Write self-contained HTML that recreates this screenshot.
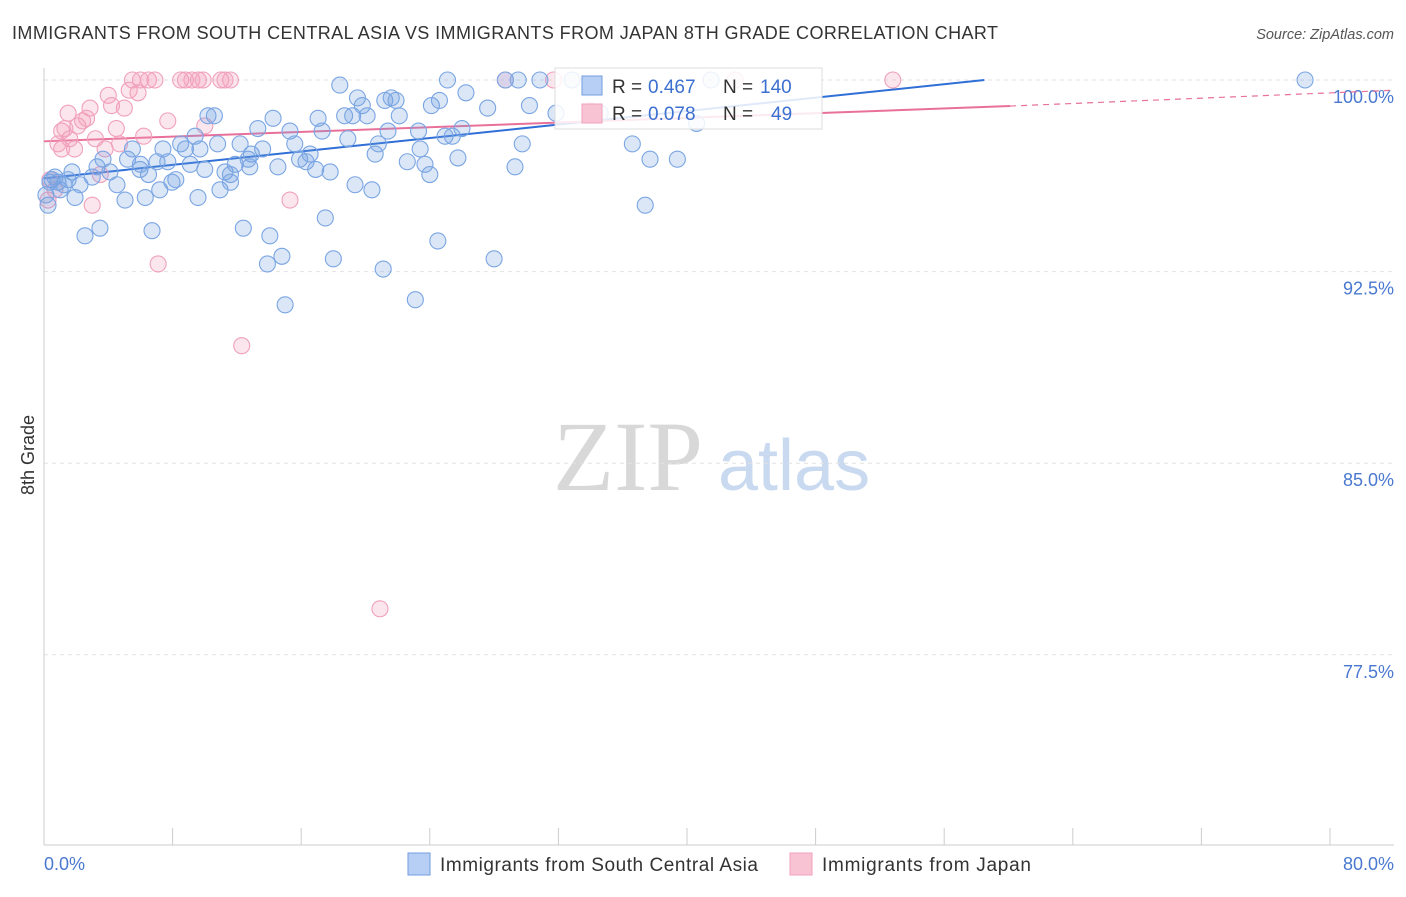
<!DOCTYPE html>
<html><head><meta charset="utf-8"><style>
body{margin:0;background:#fff;font-family:"Liberation Sans",sans-serif;}
</style></head><body>
<svg width="1406" height="892" xmlns="http://www.w3.org/2000/svg" font-family="Liberation Sans, sans-serif">
<text x="12" y="39" font-size="18" fill="#333" textLength="986">IMMIGRANTS FROM SOUTH CENTRAL ASIA VS IMMIGRANTS FROM JAPAN 8TH GRADE CORRELATION CHART</text>
<text x="1394" y="39" font-size="14.5" fill="#555" font-style="italic" text-anchor="end">Source: ZipAtlas.com</text>
<g>
<text x="553" y="490" font-size="100" style="font-family:'Liberation Serif',serif" fill="#d8d8d8">ZIP</text>
<text x="718" y="490" font-size="72" fill="#c8d9f0">atlas</text>
</g>
<g id="grid"></g>
<g id="axes"></g>
<g id="trend"></g>
<g id="pts"></g>
<text transform="translate(34,455) rotate(-90)" font-size="18" fill="#333" text-anchor="middle">8th Grade</text>
<text x="44" y="870" font-size="18" fill="#4a78d0">0.0%</text>
<text x="1394" y="870" font-size="18" fill="#4a78d0" text-anchor="end">80.0%</text>
<g>
<rect x="555" y="68" width="267" height="61" fill="#fff" fill-opacity="0.85" stroke="#ddd"/>
<rect x="582" y="76" width="20" height="19" fill="#b8cff5" stroke="#6f9ee0"/>
<text x="612" y="93" font-size="19" fill="#333">R = </text>
<text x="648" y="93" font-size="19" fill="#3b6fd0">0.467</text>
<text x="723" y="93" font-size="19" fill="#333">N = </text>
<text x="760" y="93" font-size="19" fill="#3b6fd0">140</text>
<rect x="582" y="104" width="20" height="19" fill="#f8c4d4" stroke="#f0a0bc"/>
<text x="612" y="120" font-size="19" fill="#333">R = </text>
<text x="648" y="120" font-size="19" fill="#3b6fd0">0.078</text>
<text x="723" y="120" font-size="19" fill="#333">N = </text>
<text x="771" y="120" font-size="19" fill="#3b6fd0">49</text>
</g>
<g>
<rect x="408" y="853" width="22" height="22" fill="#b8cff5" stroke="#6f9ee0"/>
<text x="440" y="871" font-size="19" fill="#333" textLength="318">Immigrants from South Central Asia</text>
<rect x="790" y="853" width="22" height="22" fill="#f8c4d4" stroke="#f0a0bc"/>
<text x="822" y="871" font-size="19" fill="#333" textLength="209">Immigrants from Japan</text>
</g>
</svg>
<script>
const yTicks=[100,92.5,85,77.5];
const yTickLabels=["100.0%","92.5%","85.0%","77.5%"];
const xTicks=[0,8,16,24,32,40,48,56,64,72,80];
const blueX=[0.25,0.5,0.87,1.24,1.74,1.93,2.24,2.55,3.0,3.3,3.48,3.67,4.1,4.54,5.04,5.2,5.5,5.97,6.3,6.5,6.72,7.03,7.2,7.4,7.7,7.96,8.2,8.5,8.8,9.1,9.4,9.58,9.7,10.0,10.2,10.6,10.8,10.95,11.26,11.6,11.9,12.2,12.4,12.7,12.9,13.3,13.6,13.9,14.05,14.25,14.55,14.8,15.0,15.3,15.6,15.9,16.3,16.55,16.9,17.05,17.3,17.5,17.8,18.0,18.4,18.7,18.9,19.2,19.35,19.5,19.8,20.1,20.4,20.6,20.8,21.1,21.2,21.4,21.6,21.9,22.1,22.6,23.1,23.3,23.4,23.7,24.0,24.1,24.5,24.6,24.95,25.1,25.4,25.75,26.0,26.25,27.6,28.0,28.7,29.3,29.5,29.75,30.2,30.85,31.85,32.85,34.6,36.6,37.4,37.7,39.4,40.6,41.5,78.45,0.12,0.37,0.68,1.0,1.5,6.0,11.6,12.8];
const blueY=[95.1,96.1,96.0,95.9,96.4,95.4,95.9,93.9,96.2,96.6,94.2,96.9,96.4,95.9,95.3,96.9,97.3,96.5,95.4,96.3,94.1,96.8,95.7,97.3,96.8,96.0,96.1,97.5,97.3,96.7,97.8,95.4,97.3,96.5,98.6,98.6,97.5,95.7,96.4,96.0,96.7,97.5,94.2,96.9,97.1,98.1,97.3,92.8,93.9,98.5,96.6,93.1,91.2,98.0,97.5,96.9,96.8,97.1,96.5,98.5,98.0,94.6,96.4,93.0,99.8,98.6,97.7,98.6,95.9,99.3,99.0,98.6,95.7,97.1,97.5,92.6,99.2,98.0,99.3,99.2,98.6,96.8,91.4,98.0,97.3,96.7,96.3,99.0,93.7,99.2,97.8,100,97.8,96.95,98.1,99.5,98.9,93.0,100,96.6,100,97.5,99.0,100,98.7,100,98.7,97.5,95.1,96.9,96.9,98.3,100,100,95.5,96.0,96.2,95.7,96.1,96.7,96.3,96.6];
const pinkX=[0.25,0.37,0.68,0.87,1.1,1.3,1.6,1.9,2.1,2.4,2.65,2.86,3.0,3.2,3.5,3.8,4.0,4.2,4.5,4.7,5.0,5.3,5.5,5.85,6.0,6.2,6.5,6.9,7.1,7.7,8.5,8.8,9.2,9.6,9.9,10.0,11.0,11.26,11.6,12.3,15.3,20.9,28.7,31.7,34.0,43.0,52.8,1.1,1.5];
const pinkY=[95.3,96.1,95.7,97.5,97.3,98.1,97.7,97.3,98.2,98.4,98.5,98.9,95.1,97.7,96.3,97.3,99.4,99.0,98.1,97.5,98.9,99.6,100,99.5,100,97.8,100,100,92.8,98.4,100,100,100,100,100,98.2,100,100,100,89.6,95.3,79.3,100,100,98.8,100,100,98.0,98.7];
const blueTrend=[[0,96.15],[58.5,100]];
const pinkTrend=[[0,97.6],[60.1,98.98]];
const pinkDash=[[60.1,98.98],[84,99.6]];
const NS="http://www.w3.org/2000/svg";
const X0=44,PXX=1286/80,Y0=80,PXY=191.6/7.5;
const sx=v=>X0+v*PXX, sy=v=>Y0+(100-v)*PXY;
function mk(tag,attrs,parent){const e=document.createElementNS(NS,tag);for(const k in attrs)e.setAttribute(k,attrs[k]);parent.appendChild(e);return e;}
const grid=document.getElementById('grid'),axes=document.getElementById('axes'),pts=document.getElementById('pts'),trend=document.getElementById('trend');
yTicks.forEach((t,i)=>{
 const l=mk('line',{x1:44,x2:1394,y1:sy(t),y2:sy(t),stroke:'#e2e2e2','stroke-dasharray':'4,4'},grid);
 
 
 const tx=mk('text',{x:1394,y:sy(t)+23,'font-size':18,fill:'#4a78d0','text-anchor':'end'},grid);
 tx.textContent=yTickLabels[i];
 
 
});
let a=mk('line',{x1:44,x2:44,y1:68,y2:845,stroke:'#ccc'},axes);


a=mk('line',{x1:44,x2:1394,y1:845,y2:845,stroke:'#ccc'},axes);


xTicks.forEach(t=>{
 const l=mk('line',{x1:sx(t),x2:sx(t),y1:828,y2:845,stroke:'#ccc'},axes);
 
 
});
function drawPts(xs,ys,fill,stroke,name){
 xs.forEach((x,i)=>{
  const c=mk('circle',{cx:sx(x),cy:sy(ys[i]),r:8,fill:fill,'fill-opacity':0.25,stroke:stroke,'stroke-width':1.1},pts);
  
  
 });
}
drawPts(pinkX,pinkY,'#f39ab8','#f0a0bc','point-japan');
drawPts(blueX,blueY,'#6f9ee0','#7aa5e3','point-south-central-asia');
let t=mk('line',{x1:sx(blueTrend[0][0]),y1:sy(blueTrend[0][1]),x2:sx(blueTrend[1][0]),y2:sy(blueTrend[1][1]),stroke:'#2f6fd6','stroke-width':2},trend);


t=mk('line',{x1:sx(pinkTrend[0][0]),y1:sy(pinkTrend[0][1]),x2:sx(pinkTrend[1][0]),y2:sy(pinkTrend[1][1]),stroke:'#e8709a','stroke-width':2},trend);


t=mk('line',{x1:sx(pinkDash[0][0]),y1:sy(pinkDash[0][1]),x2:sx(pinkDash[1][0]),y2:sy(pinkDash[1][1]),stroke:'#e8709a','stroke-width':1.2,'stroke-dasharray':'6,5'},trend);


</script>
</body></html>
